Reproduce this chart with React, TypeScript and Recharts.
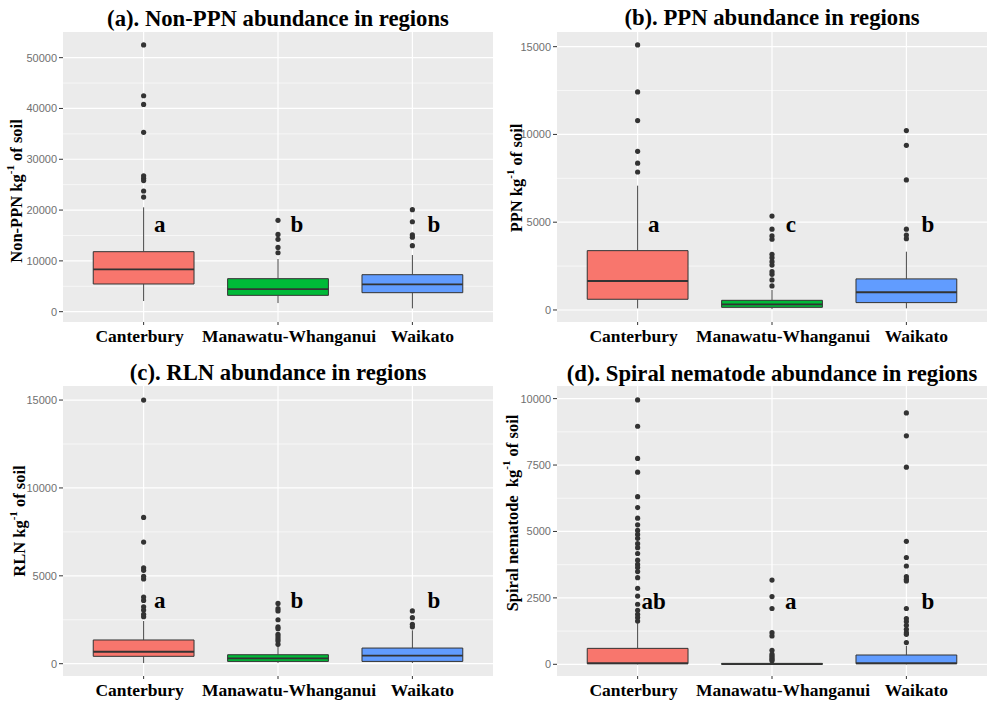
import React from 'react';
import { ComposedChart, XAxis, YAxis, CartesianGrid, Scatter, ReferenceArea, ReferenceLine } from 'recharts';

const SERIF = '"Liberation Serif", "Times New Roman", serif';
const SANS = '"Liberation Sans", Arial, sans-serif';

const regions = ['Canterbury', 'Manawatu-Whanganui', 'Waikato'];
const regionFills = ['#F8766D', '#00BA38', '#619CFF'];

// box summaries per region: [lower whisker, q1, median, q3, upper whisker]
const nonPpnStats = [
  [2100, 5450, 8330, 11810, 20540],
  [1700, 3215, 4460, 6500, 10370],
  [650, 3740, 5380, 7280, 11150],
];
const nonPpnOutliers = [
  [52500, 42500, 40800, 35300, 26750, 26250, 25800, 23750, 22550],
  [17980, 15200, 14250, 12650, 11600],
  [20080, 17700, 15100, 14650, 13000],
];
const nonPpnLetters = ['a', 'b', 'b'];
const nonPpnTicks = [0, 10000, 20000, 30000, 40000, 50000];
const nonPpnMinor = [5000, 15000, 25000, 35000, 45000];

const ppnStats = [
  [90, 610, 1650, 3380, 7080],
  [50, 150, 320, 550, 1140],
  [90, 420, 1010, 1770, 3320],
];
const ppnOutliers = [
  [15100, 12420, 10790, 9040, 8360, 7860],
  [5350, 4600, 4220, 4030, 3170, 2980, 2750, 2560, 2180, 2030, 1710, 1370],
  [10220, 9380, 7410, 4600, 4270, 4060],
];
const ppnLetters = ['a', 'c', 'b'];
const ppnTicks = [0, 5000, 10000, 15000];
const ppnMinor = [2500, 7500, 12500];

const rlnStats = [
  [40, 420, 680, 1350, 2430],
  [40, 130, 300, 510, 1000],
  [40, 130, 455, 890, 1900],
];
const rlnOutliers = [
  [15000, 8320, 6920, 5460, 5310, 4970, 4820, 3790, 3600, 3240, 3050, 2810, 2670],
  [3430, 3130, 3000, 2500, 2090, 1990, 1670, 1540, 1400, 1290, 1100],
  [3000, 2620, 2240, 2100],
];
const rlnLetters = ['a', 'b', 'b'];
const rlnTicks = [0, 5000, 10000, 15000];
const rlnMinor = [2500, 7500, 12500];

const spiralStats = [
  [0, 25, 40, 600, 1570],
  [0, 0, 10, 35, 80],
  [0, 25, 40, 350, 700],
];
const spiralOutliers = [
  [9950, 8960, 7750, 7230, 6310, 5900, 5500, 5250, 5040, 4890, 4740, 4540, 4390, 4170, 3920, 3760, 3640, 3490, 3260, 2860, 2570, 2260, 2030, 1880, 1760, 1630],
  [3170, 2550, 2100, 1190, 1070, 530, 380, 310, 250, 190, 130],
  [9460, 8600, 7420, 4630, 4020, 3700, 3300, 3200, 3140, 2100, 1720, 1610, 1470, 1320, 1190, 1130, 820],
];
const spiralLetters = ['ab', 'a', 'b'];
const spiralTicks = [0, 2500, 5000, 7500, 10000];
const spiralMinor = [1250, 3750, 6250, 8750];

const BOX_HALF = 0.375;
const LETTER_DX = [0.12, 0.14, 0.16];
const TICK_DX = [-4, 11, 10];

const panels = [
  {
    title: '(a). Non-PPN abundance in regions', yName: 'Non-PPN', stats: nonPpnStats, outliers: nonPpnOutliers,
    letters: nonPpnLetters, letterY: 15700, ticks: nonPpnTicks, minor: nonPpnMinor, domain: [-2030, 55050],
    left: 0, top: 0, height: 351, marginTop: 32, xHeight: 29, titleY: 26, labelX: 16, labelY: 191,
  },
  {
    title: '(b). PPN abundance in regions', yName: 'PPN', stats: ppnStats, outliers: ppnOutliers,
    letters: ppnLetters, letterY: 4460, ticks: ppnTicks, minor: ppnMinor, domain: [-685, 15835],
    left: 494, top: 0, height: 351, marginTop: 32, xHeight: 29, titleY: 25, labelX: 22, labelY: 178,
  },
  {
    title: '(c). RLN abundance in regions', yName: 'RLN', stats: rlnStats, outliers: rlnOutliers,
    letters: rlnLetters, letterY: 3185, ticks: rlnTicks, minor: rlnMinor, domain: [-700, 15800],
    left: 0, top: 351, height: 352, marginTop: 35, xHeight: 27, titleY: 29, labelX: 19, labelY: 170,
  },
  {
    title: '(d). Spiral nematode abundance in regions', yName: 'Spiral nematode ', stats: spiralStats, outliers: spiralOutliers,
    letters: spiralLetters, letterY: 2070, ticks: spiralTicks, minor: spiralMinor, domain: [-440, 10475],
    left: 494, top: 351, height: 352, marginTop: 35, xHeight: 27, titleY: 30, labelX: 18, labelY: 162,
  },
];

const WIDTH = 494;
const Y_AXIS_W = 63;

const RegionTick = (props: any) => {
  const { x, y, payload } = props;
  const i = payload.value - 1;
  return (
    <text x={x + TICK_DX[i]} y={y} dy="0.71em" textAnchor="middle" fontFamily={SERIF} fontWeight="bold" fontSize={17.5} fill="#000">
      {regions[i]}
    </text>
  );
};

function Panel({ p }: { p: any }) {
  const outlierData = p.outliers.flatMap((vals: number[], i: number) => vals.map((v) => ({ x: i + 1, y: v })));
  const letterData = p.letters.map((t: string, i: number) => ({ x: i + 1 + LETTER_DX[i], y: p.letterY, t }));
  const boxes: React.ReactNode[] = [];
  p.stats.forEach(([lo, q1, med, q3, hi]: number[], i: number) => {
    const x = i + 1;
    boxes.push(
      <ReferenceLine key={`wl${i}`} segment={[{ x, y: lo }, { x, y: q1 }]} stroke="#444" strokeWidth={1} ifOverflow="visible" />,
      <ReferenceLine key={`wh${i}`} segment={[{ x, y: q3 }, { x, y: hi }]} stroke="#444" strokeWidth={1} ifOverflow="visible" />,
      <ReferenceArea key={`b${i}`} x1={x - BOX_HALF} x2={x + BOX_HALF} y1={q1} y2={q3} fill={regionFills[i]} fillOpacity={1} stroke="#333" strokeWidth={1} ifOverflow="visible" />,
      <ReferenceLine key={`m${i}`} segment={[{ x: x - BOX_HALF, y: med }, { x: x + BOX_HALF, y: med }]} stroke="#333" strokeWidth={1.8} ifOverflow="visible" />,
    );
  });
  const plotCenter = (Y_AXIS_W + WIDTH - 1) / 2;
  return (
    <div style={{ position: 'absolute', left: p.left, top: p.top, width: WIDTH, height: p.height }}>
      <ComposedChart width={WIDTH} height={p.height} margin={{ top: p.marginTop, right: 1, bottom: 0, left: 0 }}>
        <CartesianGrid fill="#EBEBEB" fillOpacity={1} stroke="#FFFFFF" strokeWidth={0.6} vertical={false} horizontalValues={p.minor} />
        <CartesianGrid stroke="#FFFFFF" strokeWidth={1.2} horizontalValues={p.ticks} verticalValues={[1, 2, 3]} />
        <XAxis
          type="number" dataKey="x" domain={[0.4, 3.6]} allowDataOverflow ticks={[1, 2, 3]} interval={0}
          axisLine={false} height={p.xHeight} tickSize={3} tickMargin={5} tickLine={{ stroke: '#333' }}
          tick={<RegionTick />}
        />
        <YAxis
          type="number" dataKey="y" domain={p.domain} allowDataOverflow ticks={p.ticks} interval={0}
          width={Y_AXIS_W} axisLine={false} tickSize={4} tickMargin={2} tickLine={{ stroke: '#333' }}
          tick={{ fill: '#707070', fontFamily: SANS, fontSize: 11 }}
        />
        {boxes}
        <Scatter
          data={outlierData} isAnimationActive={false}
          shape={(s: any) => <circle cx={s.cx} cy={s.cy} r={2.6} fill="#333" />}
        />
        <Scatter
          data={letterData} isAnimationActive={false}
          shape={(s: any) => (
            <text x={s.cx} y={s.cy} textAnchor="middle" fontFamily={SERIF} fontWeight="bold" fontSize={23} fill="#000">
              {s.payload.t}
            </text>
          )}
        />
      </ComposedChart>
      <svg width={WIDTH} height={p.height} style={{ position: 'absolute', left: 0, top: 0, pointerEvents: 'none' }}>
        <text x={plotCenter} y={p.titleY} textAnchor="middle" fontFamily={SERIF} fontWeight="bold" fontSize={22.7} fill="#000">
          {p.title}
        </text>
        <text
          x={p.labelX} y={p.labelY} transform={`rotate(-90 ${p.labelX} ${p.labelY})`}
          textAnchor="middle" dominantBaseline="central" fontFamily={SERIF} fontWeight="bold" fontSize={16.5}
          fill="#000" style={{ whiteSpace: 'pre' }}
        >
          <tspan>{p.yName} kg</tspan>
          <tspan dy={-6} fontSize={11}>-1</tspan>
          <tspan dy={6}> of soil</tspan>
        </text>
      </svg>
    </div>
  );
}

export default function App() {
  return (
    <div style={{ position: 'absolute', left: 0, top: 0, width: 988, height: 703, background: '#FFFFFF' }}>
      {panels.map((p, i) => (
        <Panel key={i} p={p} />
      ))}
    </div>
  );
}
